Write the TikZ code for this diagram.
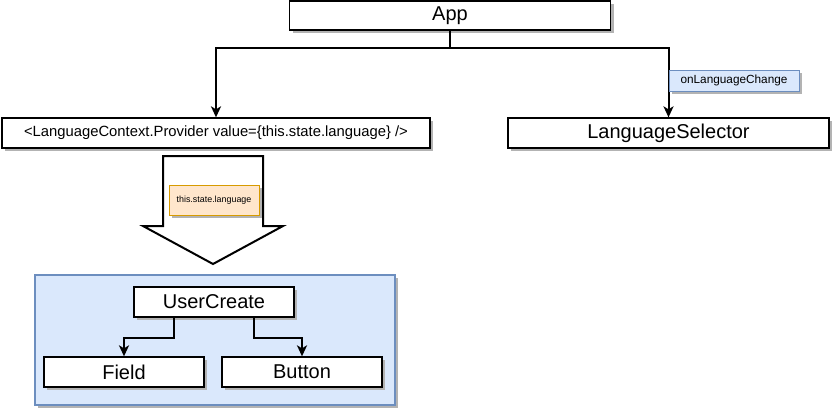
\documentclass[tikz,border=0pt]{standalone}
\usepackage{fontspec}
\setmainfont{Liberation Sans}
\usetikzlibrary{shadows,arrows.meta,positioning}
\definecolor{bluefill}{HTML}{DAE8FC}
\definecolor{blueline}{HTML}{6C8EBF}
\definecolor{orfill}{HTML}{FFE6CC}
\definecolor{orline}{HTML}{D79B00}
\definecolor{shade}{HTML}{B3B3B3}
\tikzset{
  shad/.style={drop shadow={shadow xshift=3pt,shadow yshift=-3pt,fill=shade,opacity=1}},
  box/.style={draw=black,fill=white,line width=1.3pt,shad,rectangle,inner sep=0pt,
    minimum width=#1,minimum height=30pt,font=\fontsize{20}{24}\selectfont},
  lbl/.style={rectangle,inner sep=0pt,line width=1pt,shad},
  conn/.style={draw=black,line width=2pt,-{Stealth[length=11pt,width=10pt,inset=3pt]}},
}
\begin{document}
\begin{tikzpicture}[x=1pt,y=-1pt]
\useasboundingbox (0,0) rectangle (833,410);
% top
\node[box=321pt,minimum height=29pt] (app) at (450,15.5) {App};
\node[box=428pt,font=\fontsize{14.8}{18}\selectfont] (prov) at (216,133) {<LanguageContext.Provider value=\{this.state.language\} />};
\node[box=321pt] (ls) at (668.5,133) {LanguageSelector};
\draw[conn] (app.south) -- ++(0,17) -| (prov.north);
\draw[conn] (app.south) -- ++(0,17) -| (ls.north);
\node[lbl,draw=blueline,fill=bluefill,minimum width=130pt,minimum height=21pt,font=\fontsize{11.8}{14}\selectfont] (olc) at (734,80.5) {onLanguageChange};
% block arrow
\draw[line width=2pt,fill=white,line join=miter] (163,156) -- (263,156) -- (263,226) -- (283,226) -- (213,264) -- (143,226) -- (163,226) -- cycle;
\node[lbl,draw=orline,fill=orfill,minimum width=90pt,minimum height=30pt,font=\fontsize{8.9}{11}\selectfont] (ssl) at (214,200) {this.state.language};
% container
\node[rectangle,draw=blueline,fill=bluefill,line width=1.3pt,shad,minimum width=360pt,minimum height=130pt] (cont) at (215,340) {};
\node[box=160pt] (uc) at (214,302) {UserCreate};
\node[box=160pt] (field) at (124,372) {Field};
\node[box=160pt] (button) at (302,372) {Button};
\draw[conn] ([xshift=-40pt]uc.south) -- ++(0,20) -| (field.north);
\draw[conn] ([xshift=40pt]uc.south) -- ++(0,20) -| (button.north);
\end{tikzpicture}
\end{document}
